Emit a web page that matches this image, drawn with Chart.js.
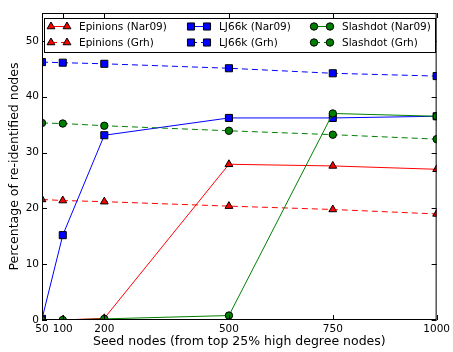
<!DOCTYPE html>
<html>
<head>
<meta charset="utf-8">
<script src="https://cdn.jsdelivr.net/npm/chart.js@4"></script>
<style>
  html, body { margin: 0; padding: 0; background: #fff; }
  #wrap { width: 453px; height: 352px; }
</style>
</head>
<body>
<div id="wrap"><canvas id="grafica" width="453" height="352"></canvas></div>
<script>
// datos
const seeds = [50, 100, 200, 500, 750, 1000];
const yTicks = [0, 10, 20, 30, 40, 50];

const epinionsNar = [0, 0, 0.3, 27.9, 27.6, 27.0];
const epinionsGrh = [21.6, 21.4, 21.2, 20.4, 19.8, 19.0];
const ljNar = [0.2, 15.2, 33.1, 36.2, 36.2, 36.5];
const ljGrh = [46.2, 46.1, 45.9, 45.1, 44.2, 43.7];
const slashNar = [0, 0, 0.2, 0.8, 37.0, 36.5];
const slashGrh = [35.3, 35.2, 34.8, 33.9, 33.2, 32.4];

const FONT = "'DejaVu Sans', sans-serif";

function serie(label, vals, color, style, radius, dashed, idx) {
    return {
        label: label,
        data: seeds.map((s, i) => ({ x: s, y: vals[i] })),
        borderColor: color,
        backgroundColor: color,
        borderWidth: 1,
        borderDash: dashed ? [6, 4] : [],
        pointStyle: style,
        pointRadius: radius,
        pointBorderColor: "#000",
        pointBorderWidth: 1,
        pointBackgroundColor: color,
        tension: 0,
        fill: false,
        clip: 0,
        order: 5 - idx
    };
}

const datasets = [
    serie("Epinions (Nar09)", epinionsNar, "#ff0000", "triangle", 4.5, false, 0),
    serie("Epinions (Grh)", epinionsGrh, "#ff0000", "triangle", 4.5, true, 1),
    serie("LJ66k (Nar09)", ljNar, "#0000ff", "rect", 5, false, 2),
    serie("LJ66k (Grh)", ljGrh, "#0000ff", "rect", 5, true, 3),
    serie("Slashdot (Nar09)", slashNar, "#008000", "circle", 3.7, false, 4),
    serie("Slashdot (Grh)", slashGrh, "#008000", "circle", 3.7, true, 5)
];

// marco, ticks hacia adentro y leyenda
const marco = {
    id: "marco",
    afterDraw(chart) {
        const ctx = chart.ctx;
        const a = chart.chartArea;
        const xs = chart.scales.x, ys = chart.scales.y;
        ctx.save();
        ctx.strokeStyle = "#000";
        ctx.lineWidth = 1;
        ctx.setLineDash([]);
        ctx.strokeRect(a.left + 0.5, a.top + 0.5, a.right - a.left - 1, a.bottom - a.top - 1);
        ctx.beginPath();
        seeds.forEach(s => {
            const px = Math.round(xs.getPixelForValue(s)) + 0.5;
            ctx.moveTo(px, a.bottom); ctx.lineTo(px, a.bottom - 5);
            ctx.moveTo(px, a.top); ctx.lineTo(px, a.top + 5);
        });
        yTicks.forEach(v => {
            const py = Math.round(ys.getPixelForValue(v)) + 0.5;
            ctx.moveTo(a.left, py); ctx.lineTo(a.left + 5, py);
            ctx.moveTo(a.right, py); ctx.lineTo(a.right - 5, py);
        });
        ctx.stroke();

        // leyenda
        const bx = 44.5, by = 18.5, bw = 391, bh = 34;
        ctx.fillStyle = "#fff";
        ctx.fillRect(bx, by, bw, bh);
        ctx.strokeRect(bx, by, bw, bh);
        const colX = [51, 191, 314];
        const rowY = [26.5, 42.5];
        ctx.font = "10.5px " + FONT;
        ctx.textBaseline = "middle";
        chart.data.datasets.forEach((d, i) => {
            const x0 = colX[Math.floor(i / 2)];
            const y0 = rowY[i % 2];
            ctx.strokeStyle = d.borderColor;
            ctx.setLineDash(d.borderDash);
            ctx.beginPath();
            ctx.moveTo(x0, y0); ctx.lineTo(x0 + 16, y0);
            ctx.stroke();
            ctx.setLineDash([]);
            ctx.fillStyle = d.pointBackgroundColor;
            ctx.strokeStyle = "#000";
            const opt = { pointStyle: d.pointStyle, radius: d.pointRadius, rotation: 0, borderWidth: 1 };
            Chart.helpers.drawPoint(ctx, opt, x0, y0);
            Chart.helpers.drawPoint(ctx, opt, x0 + 16, y0);
            ctx.fillStyle = "#000";
            ctx.fillText(d.label, x0 + 28, y0 + 0.5);
        });
        ctx.restore();
    }
};

const chart = new Chart(document.getElementById("grafica").getContext("2d"), {
    type: "line",
    data: { datasets: datasets },
    options: {
        responsive: false,
        animation: false,
        layout: { padding: { top: 13, right: 16, left: 0, bottom: 0 } },
        plugins: { legend: { display: false }, tooltip: { enabled: false } },
        scales: {
            x: {
                type: "linear",
                min: 50,
                max: 1000,
                grid: { display: false, drawTicks: false, tickLength: 0 },
                border: { display: false },
                afterBuildTicks: s => { s.ticks = seeds.map(v => ({ value: v })); },
                afterFit: s => { s.height = 32; },
                ticks: { color: "#000", font: { family: FONT, size: 10.5 }, padding: 3, maxRotation: 0, autoSkip: false, callback: v => String(v) },
                title: { display: true, text: "Seed nodes (from top 25% high degree nodes)", color: "#000", font: { family: FONT, size: 12.5 }, padding: { top: 0, bottom: 3 } }
            },
            y: {
                min: 0,
                max: 55,
                grid: { display: false, drawTicks: false, tickLength: 0 },
                border: { display: false },
                afterBuildTicks: s => { s.ticks = yTicks.map(v => ({ value: v })); },
                afterFit: s => { s.width = 42; },
                ticks: { color: "#000", font: { family: FONT, size: 10.5 }, padding: 3, callback: v => String(v) },
                title: { display: true, text: "Percentage of re-identified nodes", color: "#000", font: { family: FONT, size: 12.5 }, padding: { top: 7, bottom: 2 } }
            }
        }
    },
    plugins: [marco]
});
</script>
</body>
</html>
